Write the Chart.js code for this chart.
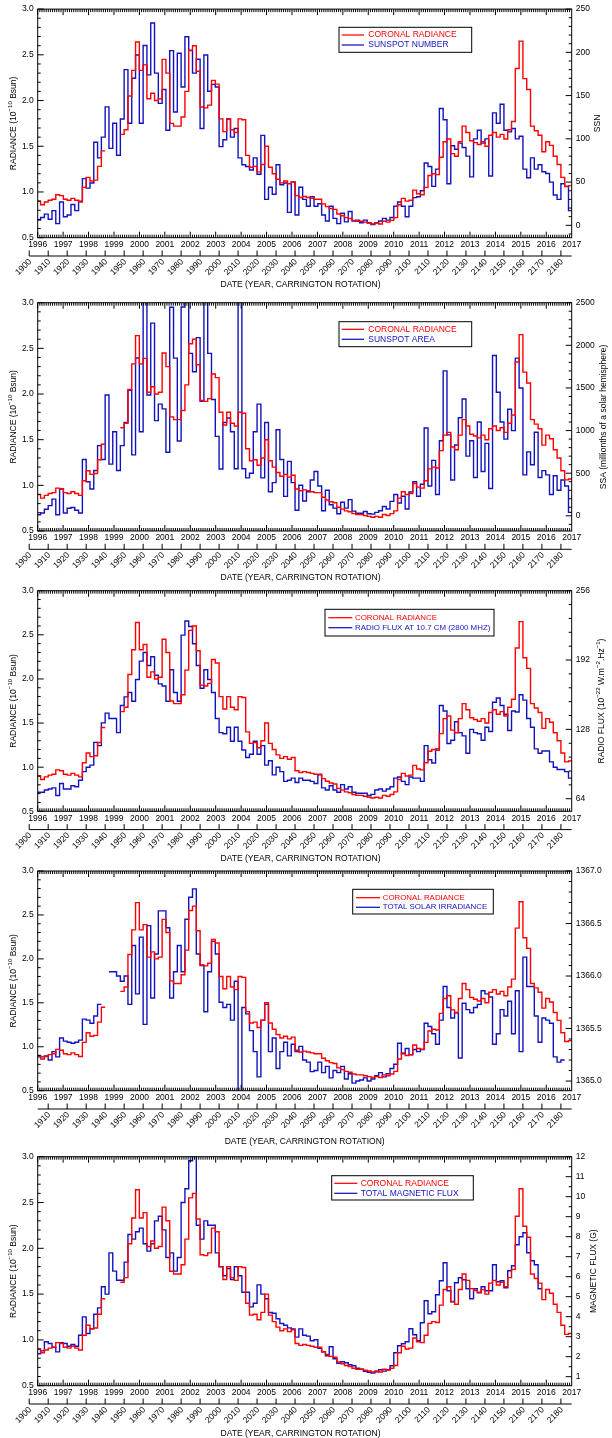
<!DOCTYPE html>
<html>
<head>
<meta charset="utf-8">
<script src="https://cdn.jsdelivr.net/npm/chart.js@4.4.0/dist/chart.umd.min.js"></script>
<style>
html, body { margin: 0; padding: 0; background: #fff; width: 612px; height: 1438px; overflow: hidden; }
canvas { position: absolute; left: 0; }
</style>
</head>
<body>
<script>
// ---------------------------------------------------------------------------
// Bins: one value every 2 Carrington rotations, starting at rotation 1904.
// ---------------------------------------------------------------------------
const CR_FIRST = 1904;
const CR_STEP = 2;

const yearTicks = [1996, 1997, 1998, 1999, 2000, 2001, 2002, 2003, 2004, 2005, 2006,
                   2007, 2008, 2009, 2010, 2011, 2012, 2013, 2014, 2015, 2016, 2017];
const rotationTicks = [1900, 1910, 1920, 1930, 1940, 1950, 1960, 1970, 1980, 1990, 2000,
                       2010, 2020, 2030, 2040, 2050, 2060, 2070, 2080, 2090, 2100, 2110,
                       2120, 2130, 2140, 2150, 2160, 2170, 2180];
const radianceTicks = [0.5, 1.0, 1.5, 2.0, 2.5, 3.0];
const ssnTicks = [0, 50, 100, 150, 200, 250];
const ssaTicks = [0, 500, 1000, 1500, 2000, 2500];
const radioTicks = [64, 128, 192, 256];
const tsiTicks = [1365.0, 1365.5, 1366.0, 1366.5, 1367.0];
const fluxTicks = [1, 2, 3, 4, 5, 6, 7, 8, 9, 10, 11, 12];

// Coronal radiance (1e-10 Bsun)
const coronalRadiance = [
  0.90, 0.86, 0.89, 0.91, 0.92, 0.97, 0.96, 0.92, 0.91, 0.93,
  0.91, 0.89, 1.05, 1.16, 1.12, 1.13, 1.28, 1.45, null, null,
  null, null, 1.63, 1.68, 2.05, 2.33, 2.64, 2.33, 2.39, 2.02,
  2.08, 2.00, 2.02, 2.45, 2.30, 1.75, 1.72, 1.72, 1.82, 2.10,
  2.55, 2.60, 2.32, 1.93, 1.92, 1.95, 2.22, 2.18, 1.80, 1.66,
  1.80, 1.68, 1.65, 1.80, 1.79, 1.40, 1.27, 1.28, 1.22, 1.30,
  1.50, 1.27, 1.20, 1.14, 1.10, 1.12, 1.09, 1.11, 0.96, 0.94,
  0.95, 0.94, 0.93, 0.92, 0.92, 0.87, 0.84, 0.82, 0.81, 0.76,
  0.74, 0.72, 0.71, 0.69, 0.68, 0.68, 0.67, 0.66, 0.65, 0.66,
  0.65, 0.68, 0.67, 0.69, 0.72, 0.86, 0.93, 0.90, 0.91, 1.02,
  0.98, 0.97, 1.05, 1.18, 1.20, 1.19, 1.38, 1.55, 1.58, 1.42,
  1.39, 1.55, 1.72, 1.65, 1.56, 1.54, 1.52, 1.55, 1.50, 1.62,
  1.65, 1.60, 1.63, 1.58, 1.68, 1.77, 2.35, 2.65, 2.24, 2.12,
  1.72, 1.67, 1.62, 1.44, 1.55, 1.51, 1.39, 1.30, 1.16, 1.06,
  1.07
];

// Sunspot number
const sunspotNumber = [
  6, 9, 13, 7, 17, 2, 27, 10, 12, 24,
  17, 28, 54, 43, 49, 96, 78, 102, 137, 89,
  118, 81, 123, 180, 118, 170, 197, 118, 208, 174,
  234, 176, 141, 157, 110, 202, 131, 199, 160, 218,
  202, 176, 192, 112, 197, 155, 163, 160, 91, 99,
  123, 102, 112, 78, 70, 68, 64, 78, 59, 104,
  30, 44, 36, 70, 47, 49, 15, 50, 12, 44,
  30, 22, 33, 22, 25, 12, 5, 22, 8, 2,
  14, 4, 16, 5, 6, 3, 6, 3, 1, 3,
  5, 8, 6, 9, 22, 27, 22, 10, 22, 32,
  33, 40, 72, 68, 45, 65, 135, 122, 48, 92,
  88, 95, 90, 80, 56, 100, 110, 95, 100, 57,
  130, 118, 140, 110, 108, 112, 100, 103, 65, 55,
  78, 65, 70, 62, 60, 50, 35, 30, 48, 45,
  17
];

// Sunspot area (millionths of a solar hemisphere)
const sunspotArea = [
  12, 34, 77, 120, 196, 12, 315, 34, 88, 98,
  66, 34, 660, 400, 315, 531, 823, 660, 1418, 607,
  986, 531, 823, 1094, 1473, 715, 1851, 986, 2700, 1418,
  2260, 1117, 1310, 1255, 745, 2446, 1850, 877, 2450, 2700,
  1905, 1690, 2090, 1342, 2700, 1905, 1364, 932, 550, 1094,
  1148, 986, 553, 2900, 553, 445, 499, 986, 1310, 445,
  1094, 282, 390, 1010, 661, 228, 639, 390, 66, 358,
  174, 282, 420, 520, 350, 60, 300, 130, 90, 25,
  160, 90, 190, 55, 30, 30, 50, 25, 20, 40,
  60, 110, 80, 170, 250, 150, 230, 80, 280, 400,
  230, 370, 1030, 350, 650, 250, 880, 1700, 950, 420,
  830, 1150, 1370, 700, 880, 450, 1100, 520, 850, 320,
  1880, 1450, 1100, 900, 1250, 1000, 1850, 1500, 480, 750,
  600, 980, 450, 530, 480, 250, 470, 300, 420, 350,
  40
];

// 10.7 cm radio flux (1e-22 W m-2 Hz-1)
const radioFlux = [
  70, 70, 72, 73, 74, 67, 78, 73, 73, 76,
  75, 81, 89, 93, 95, 116, 113, 134, 143, 138,
  138, 125, 150, 158, 162, 154, 174, 191, 199, 187,
  195, 178, 170, 168, 154, 183, 162, 154, 215, 228,
  223, 207, 187, 166, 183, 174, 162, 138, 125, 124,
  130, 117, 130, 117, 109, 102, 105, 117, 105, 113,
  95, 99, 86, 93, 89, 80, 81, 83, 79, 83,
  81, 81, 80, 78, 86, 74, 72, 76, 72, 70,
  77, 73, 75, 70, 69, 69, 69, 67, 68, 72,
  73, 71, 73, 75, 83, 84, 80, 77, 84, 83,
  83, 80, 113, 100, 97, 110, 150, 145, 115, 118,
  135, 125, 122, 106, 128, 125, 124, 118, 130, 126,
  153, 157, 150, 142, 127, 145, 144, 160, 155, 138,
  130, 110, 106, 108, 108, 98, 93, 91, 91, 89,
  83
];

// Total solar irradiance (W m-2)
const solarIrradiance = [
  1365.23, 1365.23, 1365.24, 1365.20, 1365.28, 1365.23, 1365.41, 1365.38, 1365.37, 1365.36,
  1365.37, 1365.39, 1365.59, 1365.58, 1365.55, 1365.62, 1365.73, null, null, 1366.04,
  1366.04, 1366.00, 1365.95, 1366.00, 1365.73, 1366.29, 1365.83, 1366.37, 1365.54, 1366.48,
  1365.79, 1366.21, 1366.62, 1366.62, 1366.46, 1365.79, 1366.04, 1366.29, 1366.04, 1366.54,
  1366.75, 1366.83, 1366.21, 1366.10, 1365.66, 1366.04, 1366.33, 1366.21, 1365.75, 1365.70,
  1365.73, 1365.58, 1365.95, 1364.70, 1365.70, 1365.64, 1365.48, 1365.28, 1365.04, 1365.58,
  1365.73, 1365.28, 1365.41, 1365.12, 1365.28, 1365.37, 1365.24, 1365.35, 1365.28, 1365.33,
  1365.20, 1365.18, 1365.09, 1365.10, 1365.18, 1365.08, 1365.14, 1365.03, 1365.10, 1365.08,
  1365.14, 1365.02, 1365.07, 1364.98, 1365.00, 1365.01, 1365.03, 1365.00, 1365.02, 1365.05,
  1365.08, 1365.04, 1365.07, 1365.12, 1365.16, 1365.36, 1365.26, 1365.31, 1365.25, 1365.30,
  1365.28, 1365.30, 1365.55, 1365.52, 1365.45, 1365.35, 1365.58, 1365.90, 1365.70, 1365.60,
  1365.65, 1365.22, 1365.74, 1365.68, 1365.65, 1365.70, 1365.73, 1365.86, 1365.83, 1365.80,
  1365.35, 1365.45, 1365.68, 1365.62, 1365.76, 1365.45, 1365.86, 1365.28, 1366.18, 1365.90,
  1365.90, 1365.62, 1365.37, 1365.60, 1365.58, 1365.55, 1365.23, 1365.18, 1365.20, null,
  null
];

// Total magnetic flux (G)
const magneticFlux = [
  2.15, 2.29, 2.75, 2.66, 2.47, 2.24, 2.70, 2.66, 2.52, 2.61,
  2.52, 3.07, 3.99, 3.16, 3.39, 4.12, 4.44, 5.50, 5.13, 7.19,
  6.28, 5.82, 5.82, 6.73, 8.11, 7.88, 8.25, 8.43, 7.65, 7.28,
  7.65, 8.79, 9.02, 8.34, 6.96, 7.19, 6.28, 6.96, 9.71, 10.40,
  11.80, 12.40, 8.57, 7.88, 8.79, 8.57, 8.57, 7.19, 6.50, 6.05,
  6.41, 5.86, 6.50, 6.05, 5.22, 5.22, 4.49, 4.67, 5.59, 5.13,
  4.90, 4.21, 4.17, 3.90, 3.66, 3.57, 3.44, 3.39, 2.98, 3.39,
  3.07, 3.03, 2.80, 2.85, 2.42, 2.25, 2.05, 2.50, 1.90, 1.67,
  1.75, 1.70, 1.60, 1.55, 1.42, 1.38, 1.27, 1.22, 1.18, 1.25,
  1.35, 1.28, 1.35, 1.55, 2.20, 2.55, 2.65, 2.75, 3.40, 3.10,
  2.80, 3.70, 4.80, 4.15, 4.25, 5.10, 5.80, 6.70, 5.30, 4.75,
  5.70, 5.95, 5.85, 5.40, 4.90, 5.40, 5.20, 5.50, 5.30, 5.30,
  6.60, 5.75, 5.80, 5.45, 6.30, 6.55, 7.60, 8.00, 8.20, 7.20,
  6.80, 6.60, 5.40, null, null, null, null, null, null, null,
  null
];

// ---------------------------------------------------------------------------
// Styling and layout
// ---------------------------------------------------------------------------
const FAMILY = "'Liberation Sans', Arial, Helvetica, sans-serif";
const INK = '#000000';
const RED = '#ff0000';
const BLUE = '#1212c0';
const LINE_W = 1.4;
const TICK_FONT = 8.5;
const LEFT_W = 37.7;
const RIGHT_W = 40.3;
const XAXIS_H = 12;

// Carrington rotation 1900 began 1995.666; one rotation = 27.2753 days
const CR1900_YEAR = 1995.666;
const CR_YEARS = 27.2753 / 365.25;
const crToYear = cr => CR1900_YEAR + (cr - 1900) * CR_YEARS;

const radianceTitle = [['RADIANCE (10', 0], ['\u221210', 1], [' Bsun)', 0]];
const dateTitle = 'DATE (YEAR, CARRINGTON ROTATION)';

const panels = [
  { plotTop: 8.3, plotBottom: 237.7, series: sunspotNumber, name: 'SUNSPOT NUMBER',
    right: { min: -14.3, max: 250, ticks: ssnTicks, minor: 10, digits: 0 },
    rightTitle: [['SSN', 0]], rightTitleX: 598, crFromFirst: true, titleX: 300.5, titleDy: 47,
    legendFont: 8.5,
    legend: { x: 339, y: 27.3, w: 132.7, h: 25, l0: 341.7, l1: 364, tx: 368.3, rows: [35, 45] } },
  { plotTop: 302.7, plotBottom: 531, series: sunspotArea, name: 'SUNSPOT AREA',
    right: { min: -178, max: 2500, ticks: ssaTicks, minor: 100, digits: 0 },
    rightTitle: [['SSA (millionths of a solar hemisphere)', 0]], rightTitleX: 603.3, crFromFirst: true,
    titleX: 300.5, titleDy: 47, legendFont: 8.5,
    legend: { x: 339, y: 321.7, w: 132.7, h: 25, l0: 341.7, l1: 364, tx: 368.3, rows: [329.3, 339.3] } },
  { plotTop: 590.7, plotBottom: 811.3, series: radioFlux, name: 'RADIO FLUX AT 10.7 CM (2800 MHZ)',
    right: { min: 52.4, max: 256, ticks: radioTicks, minor: 12.8, digits: 0 },
    rightTitle: [['RADIO FLUX (10', 0], ['\u221222', 1], [' W.m', 0], ['\u22122', 1], ['.Hz', 0], ['\u22121', 1], [')', 0]],
    rightTitleX: 601.7, crFromFirst: true, titleX: 300.5, titleDy: 47, legendFont: 7.9,
    legend: { x: 325, y: 609.3, w: 169, h: 26.7, l0: 328.3, l1: 352.3, tx: 355, rows: [617.7, 627.7] } },
  { plotTop: 871, plotBottom: 1090.7, series: solarIrradiance, name: 'TOTAL SOLAR IRRADIANCE',
    right: { min: 1364.908, max: 1367.0, ticks: tsiTicks, minor: 0.1, digits: 1 },
    rightTitle: null, rightTitleX: 0, crFromFirst: false, titleX: 304.7, titleDy: 51, legendFont: 7.9,
    legend: { x: 352.7, y: 889.3, w: 140.6, h: 24.7, l0: 356, l1: 380, tx: 382.7, rows: [897.7, 907.3] } },
  { plotTop: 1156.7, plotBottom: 1385.7, series: magneticFlux, name: 'TOTAL MAGNETIC FLUX',
    right: { min: 0.55, max: 12, ticks: fluxTicks, minor: 0.5, digits: 0 },
    rightTitle: [['MAGNETIC FLUX (G)', 0]], rightTitleX: 593.3, crFromFirst: true, titleX: 300.5, titleDy: 48,
    legendFont: 8.5,
    legend: { x: 331.7, y: 1175.7, w: 141.6, h: 24.3, l0: 334.3, l1: 357.3, tx: 360.7, rows: [1183.3, 1193.3] } }
];

// Step-shaped point list: each bin is held flat for CR_STEP rotations
function steps(values) {
  const pts = [];
  values.forEach((v, i) => {
    const c = CR_FIRST + i * CR_STEP;
    if (v === null) { pts.push({ x: crToYear(c), y: null }); return; }
    pts.push({ x: crToYear(c), y: v }, { x: crToYear(c + CR_STEP), y: v });
  });
  return pts;
}

// Text with raised exponents, centred on (x, y), optionally rotated
function drawRich(ctx, parts, x, y, angle, size) {
  const sup = size * 0.72;
  ctx.save();
  ctx.translate(x, y);
  ctx.rotate(angle);
  ctx.textBaseline = 'middle';
  ctx.textAlign = 'left';
  let w = 0;
  parts.forEach(([t, s]) => { ctx.font = `${s ? sup : size}px ${FAMILY}`; w += ctx.measureText(t).width; });
  let cx = -w / 2;
  parts.forEach(([t, s]) => {
    ctx.font = `${s ? sup : size}px ${FAMILY}`;
    ctx.fillText(t, cx, s ? -size * 0.38 : 0);
    cx += ctx.measureText(t).width;
  });
  ctx.restore();
}

function decorations(p, top) {
  return {
    id: 'decorations',
    afterDraw(chart) {
      const ctx = chart.ctx;
      const a = chart.chartArea;
      const xs = chart.scales.x, yl = chart.scales.y, yr = chart.scales.y2;
      ctx.save();
      ctx.strokeStyle = INK;
      ctx.fillStyle = INK;
      ctx.lineWidth = 1;

      // frame
      ctx.strokeRect(a.left, a.top, a.right - a.left, a.bottom - a.top);

      ctx.beginPath();
      // monthly comb along top and bottom edges, longer marks at each year
      for (let yv = yearTicks[0]; yv < yearTicks[yearTicks.length - 1]; yv++) {
        for (let m = 0; m < 12; m++) {
          const x = xs.getPixelForValue(yv + m / 12);
          const len = m === 0 ? 6 : 3;
          ctx.moveTo(x, a.bottom); ctx.lineTo(x, a.bottom - len);
          ctx.moveTo(x, a.top); ctx.lineTo(x, a.top + len);
        }
      }
      // left axis ticks
      for (let k = 0; k <= 25; k++) {
        const v = 0.5 + k * 0.1;
        const y = yl.getPixelForValue(v);
        const len = k % 5 === 0 ? 6 : 3;
        ctx.moveTo(a.left, y); ctx.lineTo(a.left + len, y);
      }
      // right axis ticks
      const r = p.right;
      for (let v = Math.ceil(r.min / r.minor - 1e-6) * r.minor; v <= r.max + 1e-6; v += r.minor) {
        const y = yr.getPixelForValue(v);
        const major = r.ticks.some(t => Math.abs(t - v) < r.minor * 0.01);
        const len = major ? 6 : 3;
        ctx.moveTo(a.right, y); ctx.lineTo(a.right - len, y);
      }
      // Carrington rotation axis
      const crY = a.bottom + 18.3;
      const xStart = p.crFromFirst ? xs.getPixelForValue(crToYear(rotationTicks[0])) : a.left;
      ctx.moveTo(xStart, crY); ctx.lineTo(a.right, crY);
      rotationTicks.forEach(cr => {
        const x = xs.getPixelForValue(crToYear(cr));
        if (x < xStart - 0.5) return;
        ctx.moveTo(x, crY); ctx.lineTo(x, crY - 5.5);
      });
      ctx.stroke();

      ctx.font = `${TICK_FONT}px ${FAMILY}`;
      ctx.textAlign = 'right';
      ctx.textBaseline = 'middle';
      rotationTicks.forEach(cr => {
        const x = xs.getPixelForValue(crToYear(cr));
        if (x < xStart - 0.5) return;
        ctx.save();
        ctx.translate(x + 1, crY + 4.5);
        ctx.rotate(-Math.PI / 4);
        ctx.fillText(String(cr), 0, 0);
        ctx.restore();
      });

      // axis titles
      const midY = (a.top + a.bottom) / 2;
      drawRich(ctx, [[dateTitle, 0]], p.titleX, a.bottom + p.titleDy, 0, TICK_FONT);
      drawRich(ctx, radianceTitle, 13.5, midY, -Math.PI / 2, TICK_FONT);
      if (p.rightTitle) drawRich(ctx, p.rightTitle, p.rightTitleX, midY, -Math.PI / 2, TICK_FONT);

      // legend box
      const L = p.legend;
      ctx.lineWidth = 1;
      ctx.strokeStyle = INK;
      ctx.strokeRect(L.x, L.y - top, L.w, L.h);
      const entries = [[RED, 'CORONAL RADIANCE'], [BLUE, p.name]];
      ctx.font = `${p.legendFont}px ${FAMILY}`;
      ctx.textAlign = 'left';
      ctx.textBaseline = 'middle';
      entries.forEach(([c, t], i) => {
        const y = L.rows[i] - top;
        ctx.strokeStyle = c;
        ctx.lineWidth = 1.25;
        ctx.beginPath(); ctx.moveTo(L.l0, y); ctx.lineTo(L.l1, y); ctx.stroke();
        ctx.fillStyle = c;
        ctx.fillText(t, L.tx, y);
      });
      ctx.restore();
    }
  };
}

Chart.defaults.font.family = FAMILY;
Chart.defaults.font.size = TICK_FONT;
Chart.defaults.color = INK;

panels.forEach((p, idx) => {
  const top = idx === 0 ? 0 : Math.floor(p.plotTop - 12);
  const height = Math.ceil(p.plotBottom + 60 - top);
  const canvas = document.createElement('canvas');
  canvas.width = 612;
  canvas.height = height;
  canvas.style.top = top + 'px';
  canvas.style.width = '612px';
  canvas.style.height = height + 'px';
  document.body.appendChild(canvas);

  const padTop = p.plotTop - top;
  const padBottom = height - (p.plotBottom - top) - XAXIS_H;
  const r = p.right;

  new Chart(canvas, {
    type: 'line',
    data: {
      datasets: [
        { label: 'CORONAL RADIANCE', data: steps(coronalRadiance), yAxisID: 'y',
          borderColor: RED, borderWidth: LINE_W, pointRadius: 0, tension: 0, spanGaps: false, fill: false },
        { label: p.name, data: steps(p.series), yAxisID: 'y2',
          borderColor: BLUE, borderWidth: LINE_W, pointRadius: 0, tension: 0, spanGaps: false, fill: false }
      ]
    },
    options: {
      responsive: false,
      animation: false,
      devicePixelRatio: 1,
      events: [],
      layout: { padding: { top: padTop, bottom: padBottom, left: 0, right: 0 } },
      plugins: { legend: { display: false }, tooltip: { enabled: false } },
      scales: {
        x: {
          type: 'linear', position: 'bottom', min: yearTicks[0], max: yearTicks[yearTicks.length - 1],
          afterBuildTicks: s => { s.ticks = yearTicks.map(v => ({ value: v })); },
          afterFit: s => { s.height = XAXIS_H; },
          ticks: { autoSkip: false, maxRotation: 0, minRotation: 0, padding: 2, callback: v => String(v) },
          grid: { display: false, drawTicks: false }, border: { display: false }
        },
        y: {
          type: 'linear', position: 'left', min: radianceTicks[0], max: radianceTicks[radianceTicks.length - 1],
          afterBuildTicks: s => { s.ticks = radianceTicks.map(v => ({ value: v })); },
          afterFit: s => { s.width = LEFT_W; },
          ticks: { padding: 4, callback: v => Number(v).toFixed(1) },
          grid: { display: false, drawTicks: false }, border: { display: false }
        },
        y2: {
          type: 'linear', position: 'right', min: r.min, max: r.max,
          afterBuildTicks: s => { s.ticks = r.ticks.map(v => ({ value: v })); },
          afterFit: s => { s.width = RIGHT_W; },
          ticks: { padding: 4, callback: v => Number(v).toFixed(r.digits) },
          grid: { display: false, drawTicks: false }, border: { display: false }
        }
      }
    },
    plugins: [decorations(p, top)]
  });
});
</script>
</body>
</html>
